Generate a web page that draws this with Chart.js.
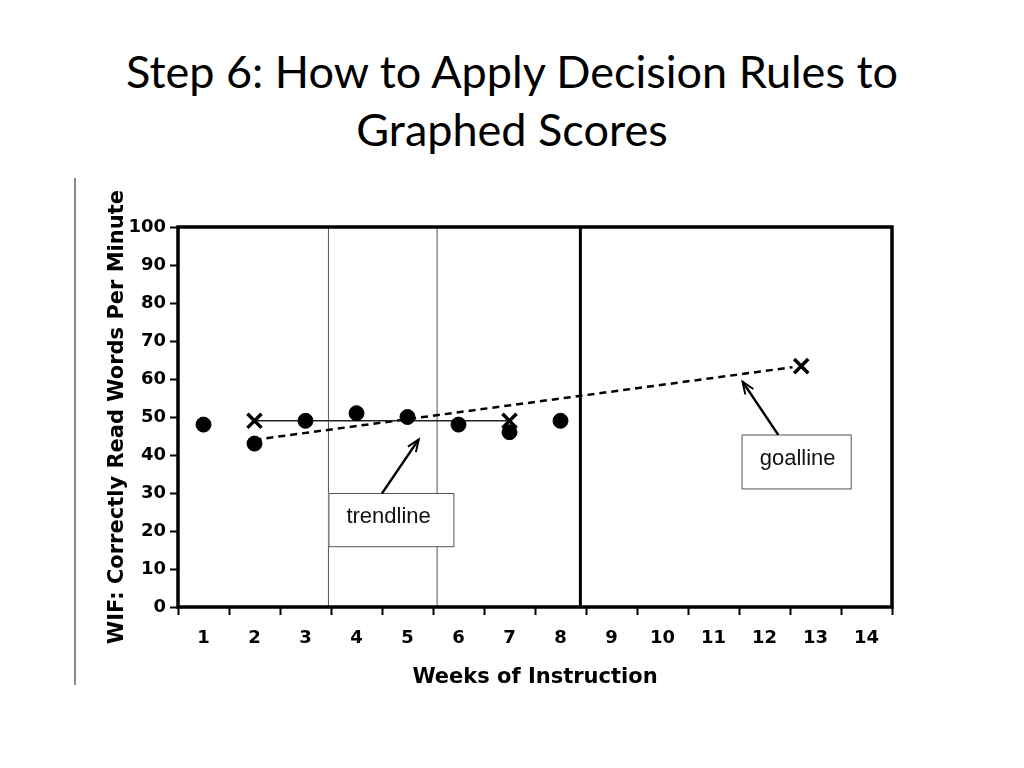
<!DOCTYPE html>
<html>
<head>
<meta charset="utf-8">
<script src="https://cdn.jsdelivr.net/npm/chart.js@4.4.1/dist/chart.umd.min.js"></script>
<style>
  html, body { margin: 0; padding: 0; background: #fff; }
  body { width: 1024px; height: 768px; position: relative; overflow: hidden; }
  #title {
    position: absolute; left: 0; top: 42px; width: 1024px;
    text-align: center; font-family: Lato, "Open Sans", sans-serif;
    font-size: 45px; line-height: 58px; color: #000;
  }
  #rule { position: absolute; left: 74px; top: 178px; width: 2px; height: 507px; background: #8a8a8a; }
  #chart { position: absolute; left: 0; top: 0; }
</style>
</head>
<body>
<div id="title">Step 6: How to Apply Decision Rules to<br>Graphed Scores</div>
<div id="rule"></div>
<canvas id="chart" width="1024" height="768"></canvas>
<script>
// values
const weeks = [1, 2, 3, 4, 5, 6, 7, 8, 9, 10, 11, 12, 13, 14];
const yTicks = [0, 10, 20, 30, 40, 50, 60, 70, 80, 90, 100];

const scoreWeeks = [1, 2, 3, 4, 5, 6, 7, 8];
const scores = [48, 43, 49, 51, 50, 48, 46, 49];

const trendWeeks = [2, 7];
const trendValues = [49, 49];

const goalWeeks = [2, 12.55];
const goalValues = [44, 63.1];
const goalMarkWeeks = [12.72];
const goalMarkValues = [63.4];

const phaseWeeks = [3.45, 5.58];
const decisionWeeks = [8.39];

const calloutTexts = ["trendline", "goalline"];

const toPoints = (xs, ys) => xs.map((x, i) => ({ x: x, y: ys[i] }));
const vLine = (x) => [{ x: x, y: yTicks[0] }, { x: x, y: yTicks[yTicks.length - 1] }];

// callout boxes, text and arrows in data units
const callouts = [
  { box: [3.45, 5.9, 30, 16], at: [4.63, 23.6], arrow: [4.5, 29.9, 5.22, 44.1] },
  { box: [11.55, 13.69, 45.4, 31.2], at: [12.65, 39.0], arrow: [12.27, 45.3, 11.57, 59.3] }
];

const calloutPlugin = {
  id: "callouts",
  afterDatasetsDraw(chart) {
    const ctx = chart.ctx;
    const xs = chart.scales.x;
    const ys = chart.scales.y;
    ctx.save();
    callouts.forEach((c, i) => {
      const x1 = xs.getPixelForValue(c.box[0]);
      const x2 = xs.getPixelForValue(c.box[1]);
      const y1 = ys.getPixelForValue(c.box[2]);
      const y2 = ys.getPixelForValue(c.box[3]);
      ctx.fillStyle = "#fff";
      ctx.fillRect(x1, y1, x2 - x1, y2 - y1);
      ctx.strokeStyle = "#555";
      ctx.lineWidth = 1;
      ctx.strokeRect(x1 + 0.5, y1 + 0.5, x2 - x1, y2 - y1);

      ctx.fillStyle = "#111";
      ctx.font = "22px 'Liberation Sans', Arial, sans-serif";
      ctx.textAlign = "center";
      ctx.textBaseline = "middle";
      ctx.fillText(calloutTexts[i], xs.getPixelForValue(c.at[0]), ys.getPixelForValue(c.at[1]));

      const ax = xs.getPixelForValue(c.arrow[0]);
      const ay = ys.getPixelForValue(c.arrow[1]);
      const bx = xs.getPixelForValue(c.arrow[2]);
      const by = ys.getPixelForValue(c.arrow[3]);
      const ang = Math.atan2(by - ay, bx - ax);
      ctx.strokeStyle = "#000";
      ctx.lineWidth = 2.5;
      ctx.beginPath();
      ctx.moveTo(ax, ay);
      ctx.lineTo(bx, by);
      ctx.stroke();
      ctx.lineWidth = 2;
      ctx.lineJoin = "miter";
      ctx.beginPath();
      ctx.moveTo(bx - 13 * Math.cos(ang - 0.38), by - 13 * Math.sin(ang - 0.38));
      ctx.lineTo(bx, by);
      ctx.lineTo(bx - 13 * Math.cos(ang + 0.38), by - 13 * Math.sin(ang + 0.38));
      ctx.stroke();
    });

    // plot frame
    const a = chart.chartArea;
    ctx.strokeStyle = "#000";
    ctx.lineWidth = 3.5;
    ctx.strokeRect(a.left, a.top, a.right - a.left, a.bottom - a.top);
    ctx.restore();
  }
};

const tickFont = { family: "'DejaVu Sans', sans-serif", size: 18, weight: "bold" };
const titleFont = { family: "'DejaVu Sans', sans-serif", size: 21, weight: "bold" };

new Chart(document.getElementById("chart"), {
  type: "scatter",
  data: {
    datasets: [
      {
        data: toPoints(scoreWeeks, scores),
        pointStyle: "circle", pointRadius: 7.5,
        backgroundColor: "#000", borderColor: "#000", showLine: false
      },
      {
        data: toPoints(trendWeeks, trendValues),
        showLine: true, borderColor: "#222", borderWidth: 1.5,
        pointStyle: "crossRot", pointRadius: 10, pointBorderWidth: 3.5,
        pointBorderColor: "#000"
      },
      {
        data: toPoints(goalMarkWeeks, goalMarkValues),
        showLine: false, pointStyle: "crossRot", pointRadius: 10,
        pointBorderWidth: 3.5, pointBorderColor: "#000"
      },
      {
        data: toPoints(goalWeeks, goalValues),
        showLine: true, borderColor: "#000", borderWidth: 2.5,
        borderDash: [7, 5], pointRadius: 0
      },
      {
        data: vLine(decisionWeeks[0]),
        showLine: true, borderColor: "#000", borderWidth: 3, pointRadius: 0
      },
      ...phaseWeeks.map((w) => ({
        data: vLine(w),
        showLine: true, borderColor: "#555", borderWidth: 1, pointRadius: 0
      }))
    ]
  },
  options: {
    responsive: false,
    animation: false,
    layout: { padding: { top: 227, right: 132, bottom: 74, left: 100 } },
    plugins: {
      legend: { display: false },
      tooltip: { enabled: false }
    },
    scales: {
      x: {
        type: "linear",
        min: 0.5, max: 14.5,
        afterFit: (scale) => { scale.height = 87; },
        border: { display: false },
        grid: {
          drawOnChartArea: false, drawTicks: true, tickLength: 8, tickWidth: 2,
          tickColor: (ctx) => (weeks.includes(ctx.tick && ctx.tick.value) ? "rgba(0,0,0,0)" : "#000")
        },
        ticks: {
          stepSize: 0.5, autoSkip: false, maxRotation: 0, padding: 13,
          color: "#000", font: tickFont,
          callback: (v) => (weeks.includes(v) ? String(v) : "")
        },
        title: {
          display: true, text: "Weeks of Instruction", color: "#000",
          font: titleFont, padding: { top: 4, bottom: 4 }
        }
      },
      y: {
        type: "linear",
        min: 0, max: 100,
        afterFit: (scale) => { scale.width = 78; },
        border: { display: false },
        grid: { drawOnChartArea: false, drawTicks: true, tickLength: 8, tickWidth: 2, tickColor: "#000" },
        ticks: {
          stepSize: 10, padding: 4, color: "#000", font: tickFont,
          callback: (v) => (yTicks.includes(v) ? String(v) : "")
        },
        title: {
          display: true, text: "WIF: Correctly Read Words Per Minute", color: "#000",
          font: titleFont, padding: { top: 5, bottom: 4 }
        }
      }
    }
  },
  plugins: [calloutPlugin]
});
</script>
</body>
</html>
